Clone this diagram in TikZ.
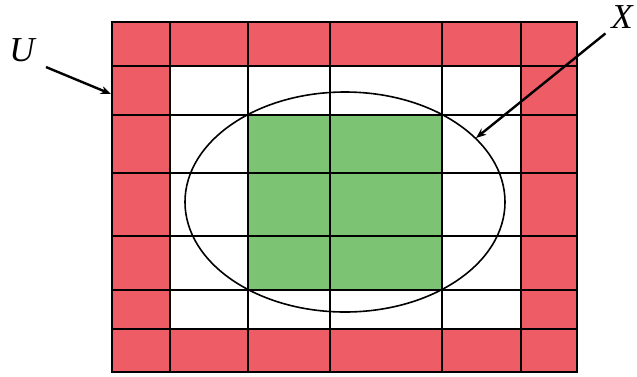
\documentclass[tikz,border=0pt]{standalone}
\usepackage{fontspec}
\setmainfont{Liberation Serif}
\usetikzlibrary{arrows.meta}
\definecolor{cellred}{HTML}{EE5C66}
\definecolor{cellgreen}{HTML}{7CC474}
\tikzset{
  gridLine/.style={draw=black, line width=1.4pt},
  frameLine/.style={draw=black, line width=1.8pt},
  setLine/.style={draw=black, line width=1.6pt},
  pointArrow/.style={-{Stealth[length=3.6mm, width=2.8mm]}, line width=2.4pt},
  setLabel/.style={font=\fontsize{35}{35}\selectfont\itshape, inner sep=1pt}
}
\begin{document}
\begin{tikzpicture}[x=1pt,y=-1pt]
  \useasboundingbox (0,0) rectangle (637,376);
  % cells: red ring, white inside, green block
  \fill[cellred] (112,22) rectangle (577,372);
  \fill[white] (170,66) rectangle (521,329);
  \fill[cellgreen] (248,115) rectangle (442,290);
  % grid
  \foreach \x in {170,248,330,442,521}
    \draw[gridLine] (\x,22) -- (\x,372);
  \foreach \y in {66,115,173,236,290,329}
    \draw[gridLine] (112,\y) -- (577,\y);
  \draw[frameLine] (112,22) rectangle (577,372);
  % the set X
  \draw[setLine] (345,202) ellipse [x radius=160, y radius=110];
  % labels
  \node[setLabel] (labU) at (22,50) {U};
  \node[setLabel] (labX) at (622,17) {X};
  \coordinate (tipU) at (111,94);
  \coordinate (tipX) at (476,138);
  \draw[pointArrow, shorten <=11pt] (labU.south east) -- (tipU);
  \draw[pointArrow, shorten <=6pt] (labX.south west) -- (tipX);
\end{tikzpicture}
\end{document}
